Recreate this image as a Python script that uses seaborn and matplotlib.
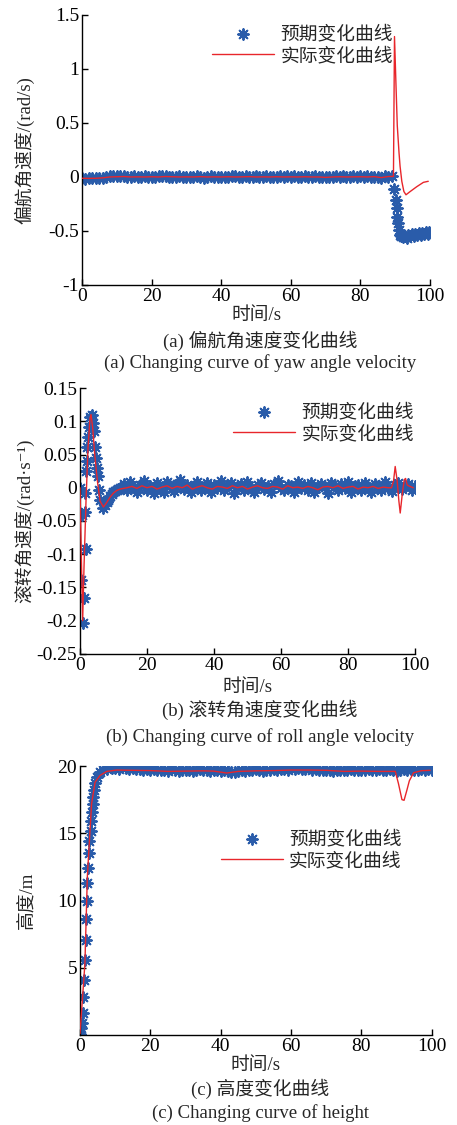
import numpy as np
import pandas as pd
import matplotlib
matplotlib.use('Agg')
import matplotlib.pyplot as plt
import seaborn as sns

# ---- (a) yaw angle velocity ----
t_a_exp = list(range(0, 90)) + [89.8, 90.2, 90.4, 90.6, 90.8, 91.0, 91.4, 91.8, 92.3, 92.8,
                                 93.3, 93.8, 94.3, 94.8, 95.3, 95.8, 96.3, 96.8, 97.3, 97.8,
                                 98.3, 98.8, 99.3, 99.8, 100.3]
yaw_exp = [-0.01, -0.015, -0.01, -0.012, -0.008, -0.01, -0.005, 0.0, 0.005, 0.01,
           0.008, 0.012, 0.005, 0.0, 0.004, 0.006, -0.003, 0.002, 0.01, 0.004,
           0.0, 0.003, 0.006, 0.012, 0.008, 0.002, -0.004, 0.001, 0.005, 0.003,
           0.0, 0.004, 0.002, 0.006, 0.001, -0.005, 0.003, 0.007, 0.002, 0.0,
           0.004, 0.002, -0.002, 0.005, 0.008, 0.003, 0.0, 0.006, 0.002, 0.004,
           0.006, 0.001, 0.003, 0.007, 0.002, -0.002, 0.004, 0.009, 0.003, 0.005,
           0.002, 0.006, 0.0, 0.004, 0.007, 0.003, 0.001, 0.005, 0.002, -0.003,
           -0.004, 0.0, 0.003, 0.005, 0.002, 0.006, 0.001, 0.004, 0.008, 0.003,
           0.005, 0.002, 0.007, 0.004, 0.0, 0.003, -0.008, 0.006, 0.004, 0.008,
           -0.11, -0.21, -0.29, -0.37, -0.43, -0.49, -0.535, -0.55, -0.56, -0.545,
           -0.565, -0.54, -0.55, -0.53, -0.545, -0.525, -0.54, -0.52, -0.535, -0.515,
           -0.53, -0.51, -0.525, -0.505, -0.515]
t_a_act = [0, 2, 4, 6, 8, 10, 12, 14, 16, 18, 20, 22, 24, 26, 28, 30, 32, 34, 36, 38,
           40, 42, 44, 46, 48, 50, 52, 54, 56, 58, 60, 62, 64, 66, 68, 70, 72, 74, 76,
           78, 80, 82, 84, 86, 88, 89.5, 89.8, 90.2, 90.6, 91.1, 91.4, 91.9, 92.5,
           93.1, 94.3, 96.2, 98.1, 99.5]
yaw_act = [-0.012, -0.013, -0.012, -0.008, 0.0, 0.002, 0.004, 0.0, 0.001, 0.0,
           0.002, 0.0, 0.004, 0.002, 0.0, 0.001, 0.0, 0.003, 0.0, 0.001,
           0.0, 0.002, 0.0, 0.001, 0.003, 0.0, 0.001, 0.0, 0.002, 0.0,
           0.001, 0.0, 0.002, 0.0, 0.0, -0.004, 0.0, 0.002, 0.0, 0.001,
           0.002, 0.0, 0.003, -0.006, 0.004, 0.005, 1.3, 0.88, 0.475, 0.225,
           0.1, -0.04, -0.135, -0.165, -0.135, -0.09, -0.05, -0.04]

# ---- (b) roll angle velocity ----
t_b_exp = [0, 0.3, 0.5, 1.0, 1.2, 1.5, 1.5, 1.8, 1.8, 2.2, 2.2, 2.5, 2.8, 3.0, 3.5, 4.0,
           4.2, 4.5, 4.8, 5.0, 5.3, 5.6, 6.0, 6.8, 7.5, 8, 8.5, 9, 9.5, 10, 10.5, 11, 11.5, 12] + \
          list(range(13, 101))
roll_exp = [0.0, -0.139, -0.041, -0.204, -0.166, -0.036, -0.008, -0.092, 0.025, 0.04,
            0.062, 0.077, 0.092, 0.107, 0.11, 0.097, 0.085, 0.062, 0.045, 0.03,
            0.017, -0.003, -0.018, -0.03, -0.026, -0.022, -0.018, -0.013, -0.01, -0.007,
            -0.005, -0.003, -0.002, 0.0,
            0.006, -0.004, 0.009, 0.001, -0.007, 0.004, 0.01, -0.003, 0.003, -0.008,
            0.007, 0.0, -0.006, 0.009, 0.002, -0.005, 0.006, 0.011, -0.002, 0.004,
            -0.007, 0.003, 0.008, -0.003, 0.001, 0.007, -0.006, 0.004, 0.0, 0.01,
            -0.004, 0.003, 0.007, -0.008, 0.001, 0.006, -0.003, 0.009, 0.0, -0.006,
            0.004, 0.007, -0.002, 0.003, -0.007, 0.006, 0.01, 0.0, -0.004, 0.004,
            0.003, -0.006, 0.008, 0.0, 0.004, -0.003, 0.007, -0.007, 0.001, 0.006,
            0.001, -0.008, 0.007, 0.003, -0.003, 0.006, 0.0, 0.009, -0.006, 0.003,
            0.004, -0.004, 0.007, 0.001, -0.007, 0.006, 0.003, -0.003, 0.008, 0.0,
            -0.005, 0.004, 0.007, -0.002, 0.003, 0.006, -0.004, 0.002]
t_b_act = [0, 0.4, 0.8, 1.2, 1.8, 2.4, 3.0, 3.3, 3.8, 4.4, 5.2, 6.0, 7.0, 8, 9, 10, 11, 12,
           14, 15.5, 17, 18.5, 20, 21.5, 23, 24.5, 26, 27.5, 29, 30.5, 32, 33.5, 35, 36.5,
           38, 39.5, 41, 42.5, 44, 45.5, 47, 48.5, 50, 51.5, 53, 54.5, 56, 57.5, 59, 60.5,
           62, 63.5, 65, 66.5, 68, 69.5, 71, 72.5, 74, 75.5, 77, 78.5, 80, 81.5, 83, 84.5,
           86, 87.5, 89, 90.5, 92, 93, 93.6, 94.1, 94.7, 95.2, 95.6, 96.2,
           96.8, 97.2, 97.7, 98.5, 99.5]
roll_act = [0.0, -0.1, -0.2, -0.12, -0.02, 0.06, 0.105, 0.11, 0.09, 0.05,
            0.01, -0.02, -0.029, -0.022, -0.014, -0.008, -0.004, -0.002,
            0.0, 0.002, -0.001, 0.003, 0.0, 0.002, -0.002, 0.001, 0.003, -0.001,
            0.002, 0.0, 0.004, -0.002, 0.001, 0.003, 0.0, -0.002, 0.002, 0.001,
            -0.001, 0.003, 0.0, 0.002, -0.002, 0.001, 0.003, 0.0, -0.001, 0.002,
            0.001, -0.002, 0.003, 0.0, 0.001, -0.001, 0.002, 0.0, -0.003, 0.001,
            0.002, 0.0, 0.003, -0.001, 0.001, 0.002, -0.002, 0.001, 0.0, 0.002,
            -0.001, 0.001, 0.0, 0.0, 0.01, 0.032, 0.01, -0.02, -0.038, -0.01,
            0.012, 0.014, 0.004, 0.002, 0.0]

# ---- (c) height ----
t_c_exp = [0, 0.3, 0.5, 0.8, 1.0, 1.1, 1.4, 1.6, 1.7, 1.9, 2.1, 2.4, 2.7, 2.7, 3.0, 3.0,
           3.4, 3.6, 3.8, 4.0, 4.3, 4.7, 5.7, 6.6, 7.6] + list(range(9, 101))
h_exp = [0.1, 0.5, 0.87, 1.6, 2.85, 4.1, 5.6, 7.1, 8.6, 10.0, 11.3, 12.45, 13.5, 14.4,
         15.2, 15.9, 16.6, 17.2, 17.7, 18.2, 18.7, 19.2, 19.55, 19.7, 19.8,
         19.82, 19.86, 19.8, 19.9, 19.84, 19.78, 19.85, 19.75, 19.8, 19.72,
         19.78, 19.7, 19.76, 19.68, 19.74, 19.72, 19.66, 19.75, 19.7, 19.64,
         19.72, 19.68, 19.74, 19.66, 19.7, 19.76, 19.68, 19.72, 19.66, 19.7,
         19.74, 19.65, 19.72, 19.6, 19.55, 19.58, 19.62, 19.7, 19.66, 19.72,
         19.68, 19.75, 19.7, 19.66, 19.74, 19.7, 19.78, 19.72, 19.76, 19.8,
         19.74, 19.82, 19.78, 19.84, 19.8, 19.76, 19.82, 19.74, 19.78, 19.7,
         19.74, 19.68, 19.72, 19.66, 19.7, 19.74, 19.68, 19.72, 19.76, 19.7,
         19.74, 19.68, 19.72, 19.78, 19.7, 19.74, 19.8, 19.72, 19.68, 19.76,
         19.7, 19.66, 19.74, 19.78, 19.72, 19.8, 19.74, 19.7, 19.76, 19.72,
         19.78, 19.74]
t_c_act = [0, 1.0, 1.4, 2.1, 3.3, 4.3, 5.7, 7.6, 10.4, 15, 20, 25, 30, 35, 38, 41.7,
           45, 50, 55, 60, 65, 70, 75, 80, 85, 89.6, 90.5, 91.5, 92.1, 92.9, 93.6,
           94.8, 97, 99.5]
h_act = [0.1, 3.8, 5.3, 11.8, 17.2, 18.8, 19.3, 19.6, 19.7, 19.68, 19.66, 19.6, 19.62,
         19.64, 19.62, 19.48, 19.6, 19.64, 19.66, 19.7, 19.7, 19.68, 19.6, 19.62,
         19.6, 19.6, 18.7, 17.5, 17.45, 18.2, 18.9, 19.5, 19.65, 19.68]

exp_label = '预期变化曲线'
act_label = '实际变化曲线'
blue = '#2a5caa'
red = '#e8262b'

sns.set_theme(style='ticks')
plt.rcParams['font.family'] = ['Liberation Serif', 'Noto Sans CJK SC', 'DejaVu Sans']
plt.rcParams['axes.unicode_minus'] = False
plt.rcParams['xtick.direction'] = 'in'
plt.rcParams['ytick.direction'] = 'in'
fs = 13.5
fs_tick = 14

fig = plt.figure(figsize=(4.57, 11.25), dpi=100)

panels = [
    dict(rect=[0.1794, 0.7467, 0.7615, 0.24], te=t_a_exp, ye=yaw_exp, ta=t_a_act, ya=yaw_act,
         ylim=(-1, 1.5), yticks=[-1, -0.5, 0, 0.5, 1, 1.5], ylabel='偏航角速度/(rad/s)',
         leg=(0.374, 0.961), cap_y=(0.697, 0.677), ylab_x=-0.138, xlab_y=-0.081,
         cap=('(a) 偏航角速度变化曲线', '(a) Changing curve of yaw angle velocity')),
    dict(rect=[0.175, 0.4187, 0.733, 0.2364], te=t_b_exp, ye=roll_exp, ta=t_b_act, ya=roll_act,
         ylim=(-0.25, 0.15), yticks=[-0.25, -0.2, -0.15, -0.1, -0.05, 0, 0.05, 0.1, 0.15],
         ylabel='滚转角速度/(rad·s⁻¹)', ylab_x=-0.134, xlab_y=-0.094,
         leg=(0.457, 0.942), cap_y=(0.369, 0.345),
         cap=('(b) 滚转角速度变化曲线', '(b) Changing curve of roll angle velocity')),
    dict(rect=[0.175, 0.08, 0.77, 0.2391], te=t_c_exp, ye=h_exp, ta=t_c_act, ya=h_act,
         ylim=(0, 20), yticks=[5, 10, 15, 20], ylabel='高度/m', ylab_x=-0.128, xlab_y=-0.082,
         leg=(0.40, 0.760), cap_y=(0.032, 0.0107),
         cap=('(c) 高度变化曲线', '(c) Changing curve of height')),
]

for p in panels:
    assert len(p['te']) == len(p['ye']), (p['ylabel'], len(p['te']), len(p['ye']))
    assert len(p['ta']) == len(p['ya']), (p['ylabel'], len(p['ta']), len(p['ya']))
    ax = fig.add_axes(p['rect'])
    sns.scatterplot(x=p['te'], y=p['ye'], ax=ax, marker=(8, 2, 0), s=60,
                    color=blue, linewidth=1.4, label=exp_label, zorder=2)
    sns.lineplot(x=p['ta'], y=p['ya'], ax=ax, color=red, linewidth=1.0, sort=False,
                 estimator=None, label=act_label, zorder=3)
    ax.set_xlim(0, 100)
    ax.set_ylim(*p['ylim'])
    ax.set_xticks([0, 20, 40, 60, 80, 100])
    ax.set_yticks(p['yticks'])
    ax.set_yticklabels(['%g' % v for v in p['yticks']])
    ax.tick_params(labelsize=fs_tick, length=4, width=1, colors='black', pad=2)
    sns.despine(ax=ax)
    for s in ['left', 'bottom']:
        ax.spines[s].set_color('black')
        ax.spines[s].set_linewidth(1)
    ax.set_xlabel('时间/s', fontsize=fs)
    ax.set_ylabel(p['ylabel'], fontsize=fs)
    ax.xaxis.set_label_coords(0.5, p['xlab_y'])
    ax.yaxis.set_label_coords(p['ylab_x'], 0.5)
    ax.legend(loc='upper left', bbox_to_anchor=p['leg'], frameon=False, fontsize=fs,
              handlelength=3.3, handletextpad=0.35, labelspacing=0.2, borderpad=0,
              borderaxespad=0, scatterpoints=1)
    fig.text(0.569, p['cap_y'][0], p['cap'][0], ha='center', va='center', fontsize=fs)
    fig.text(0.569, p['cap_y'][1], p['cap'][1], ha='center', va='center', fontsize=fs)

fig.savefig('out.png', dpi=100)
